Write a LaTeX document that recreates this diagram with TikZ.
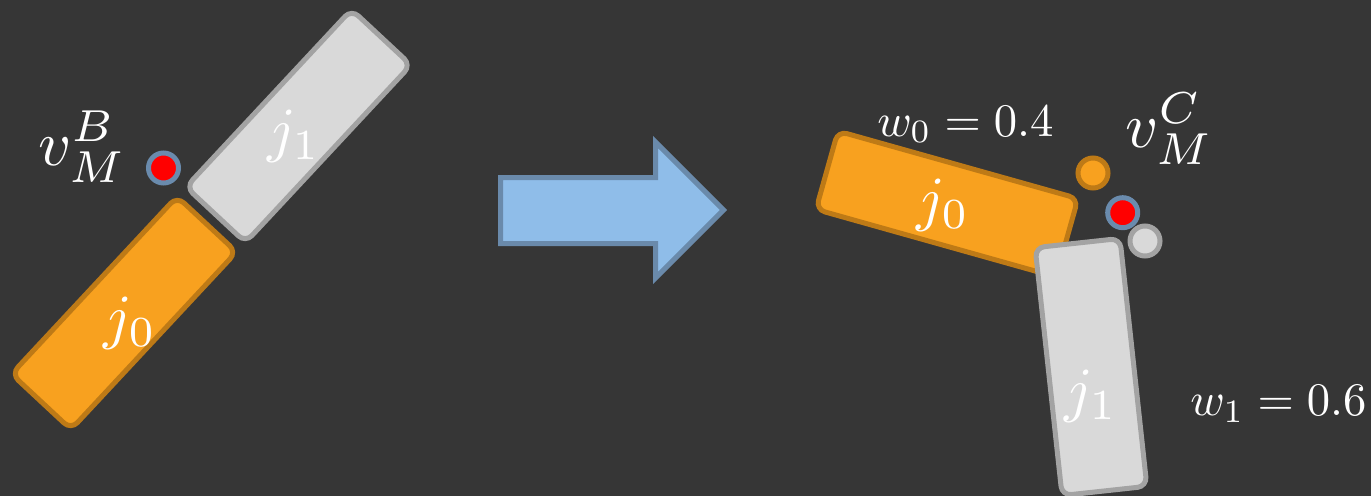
\documentclass[tikz,border=0pt]{standalone}
\usepackage{graphicx}
\definecolor{bg}{HTML}{363636}
\definecolor{jorange}{HTML}{F8A11F}
\definecolor{jorangeline}{HTML}{BE7A16}
\definecolor{jgray}{HTML}{D9D9D9}
\definecolor{jgrayline}{HTML}{A3A3A3}
\definecolor{ringblue}{HTML}{6A8BAD}
\definecolor{arrowfill}{HTML}{8FBDE9}
\definecolor{arrowline}{HTML}{6A8AAB}
\newcommand{\jtxt}[1]{\scalebox{4.6}{$#1$}}
\newcommand{\vtxt}[1]{\scalebox{4.8}{$#1$}}
\newcommand{\wtxt}[1]{\scalebox{3.5}{$#1$}}
\begin{document}
\begin{tikzpicture}[x=0.75pt,y=-0.75pt,
  bar/.style={draw, line width=3.75pt, rounded corners=7pt, inner sep=0pt},
  orangebar/.style={bar, fill=jorange, draw=jorangeline},
  graybar/.style={bar, fill=jgray, draw=jgrayline},
  dot/.style={circle, inner sep=0pt, minimum size=22.5pt, line width=3.75pt},
  reddot/.style={dot, fill=red, draw=ringblue},
  orangedot/.style={dot, fill=jorange, draw=jorangeline},
  graydot/.style={dot, fill=jgray, draw=jgrayline},
  lbl/.style={text=white, inner sep=0pt}]
\fill[bg] (0,0) rectangle (1371,496);
\useasboundingbox (0,0) rectangle (1371,496);

% left configuration
\node[graybar, rotate=47, minimum width=182pt, minimum height=61pt] (j1L) at (298.5,126) {};
\node[orangebar, rotate=47, minimum width=182pt, minimum height=61pt] (j0L) at (124,313) {};
\node[lbl] (t1L) at (294,136) {\jtxt{j_1}};
\node[lbl] (t0L) at (130,323) {\jtxt{j_0}};
\node[reddot] (vBdot) at (163.5,168) {};
\node[lbl, anchor=base west] (vB) at (38,165) {\vtxt{v_M^B}};

% arrow
\filldraw[fill=arrowfill, draw=arrowline, line width=3.75pt, line join=miter]
  (500.5,177.5) -- (655.5,177.5) -- (655.5,142) -- (723.5,210) -- (655.5,278) -- (655.5,243.5) -- (500.5,243.5) -- cycle;

% right configuration
\node[orangebar, rotate=-15.7, minimum width=187pt, minimum height=61pt] (j0R) at (947,204) {};
\node[graybar, rotate=-83.8, minimum width=187pt, minimum height=64pt] (j1R) at (1091,367) {};
\node[lbl] (t0R) at (943,205) {\jtxt{j_0}};
\node[lbl] (t1R) at (1091,396) {\jtxt{j_1}};
\node[orangedot] (oR) at (1093,173) {};
\node[reddot] (vCdot) at (1122.7,212.7) {};
\node[graydot] (gR) at (1145,241) {};
\node[lbl, anchor=base west] (vC) at (1125,147) {\vtxt{v_M^C}};
\node[lbl, anchor=base west] (w0) at (877,136) {\wtxt{w_0 = 0.4}};
\node[lbl, anchor=base west] (w1) at (1190,415) {\wtxt{w_1 = 0.6}};
\end{tikzpicture}
\end{document}
